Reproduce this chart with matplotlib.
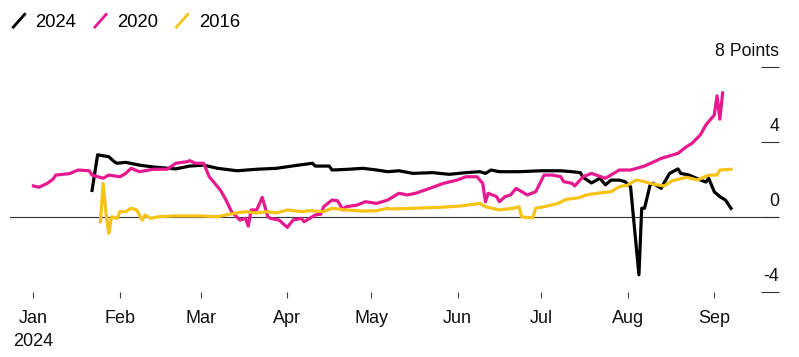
import matplotlib
matplotlib.use('Agg')

import numpy as np
import pandas as pd
import matplotlib.pyplot as plt
import matplotlib.dates as mdates
from matplotlib.lines import Line2D
from matplotlib.legend_handler import HandlerBase

plt.rcParams['font.family'] = ['Liberation Sans', 'DejaVu Sans']

# Day of year (0 = Jan 1) and margin in points for each cycle
days_2024 = [21, 23, 27, 29, 30, 33, 38, 43, 51, 56, 61, 66, 73, 80, 87, 95, 100, 101,
             106, 107, 113, 118, 123, 127, 131, 136, 143, 149, 155, 160, 162, 164, 167,
             174, 182, 189, 193, 196, 197, 200, 203, 205, 207, 210, 212, 214, 217, 218,
             219, 221, 222, 225, 226, 228, 231, 232, 235, 239, 241, 242, 244, 246, 248, 250]
vals_2024 = [1.4, 3.3, 3.2, 2.93, 2.85, 2.9, 2.75, 2.65, 2.55, 2.7, 2.75, 2.58, 2.45, 2.53,
             2.58, 2.75, 2.85, 2.7, 2.7, 2.49, 2.53, 2.58, 2.49, 2.4, 2.45, 2.31, 2.35, 2.26,
             2.35, 2.4, 2.31, 2.49, 2.4, 2.4, 2.45, 2.45, 2.4, 2.35, 2.1, 1.8, 2.05, 1.7,
             1.95, 1.95, 1.87, 1.6, -3.1, 0.45, 0.45, 1.69, 1.78, 1.51, 1.8, 2.31, 2.55,
             2.31, 2.22, 1.96, 1.85, 2.05, 1.33, 1.07, 0.89, 0.45]

days_2020 = [0, 2, 5, 7, 8, 13, 16, 20, 21, 25, 27, 31, 33, 35, 38, 43, 48, 51, 55, 56,
             58, 61, 63, 67, 69, 71, 74, 76, 77, 78, 80, 82, 84, 85, 88, 91, 93, 96, 97,
             100, 101, 103, 104, 107, 109, 111, 112, 116, 119, 123, 127, 128, 131, 134,
             137, 142, 147, 152, 155, 159, 161, 162, 163, 166, 167, 169, 171, 173, 177,
             180, 183, 186, 189, 190, 193, 194, 197, 200, 205, 210, 214, 219, 225, 227,
             231, 234, 236, 239, 241, 243, 244, 245, 246, 247]
vals_2020 = [1.64, 1.57, 1.78, 2.0, 2.22, 2.3, 2.49, 2.45, 2.22, 2.05, 2.22, 2.13, 2.3,
             2.58, 2.4, 2.53, 2.53, 2.85, 2.93, 2.99, 2.85, 2.85, 2.13, 1.42, 0.89, 0.27,
             -0.18, -0.09, -0.5, 0.36, 0.36, 1.03, 0.0, -0.09, -0.18, -0.57, -0.18, -0.09,
             -0.27, 0.0, 0.09, 0.14, 0.53, 0.89, 0.85, 0.36, 0.53, 0.62, 0.8, 0.71, 0.89,
             0.98, 1.25, 1.16, 1.25, 1.51, 1.78, 1.96, 2.13, 2.13, 1.78, 0.8, 1.25, 1.07,
             0.8, 1.07, 1.16, 1.51, 1.16, 1.33, 2.22, 2.22, 2.13, 1.87, 1.78, 1.64, 2.13,
             2.31, 2.05, 2.49, 2.49, 2.7, 3.11, 3.2, 3.38, 3.73, 3.91, 4.36, 4.89, 5.25,
             5.42, 6.45, 5.2, 6.6]

days_2016 = [24, 25, 26, 27, 28, 30, 31, 33, 35, 37, 39, 40, 42, 45, 50, 55, 60, 66, 72,
             76, 80, 84, 87, 91, 96, 99, 104, 107, 112, 118, 123, 127, 128, 136, 146, 153,
             160, 162, 167, 172, 174, 175, 177, 179, 180, 183, 188, 191, 194, 196, 198,
             202, 207, 210, 213, 216, 219, 222, 226, 229, 234, 238, 242, 245, 246, 250]
vals_2016 = [-0.27, 1.78, 0.18, -0.89, 0.0, -0.09, 0.27, 0.27, 0.45, 0.36, -0.18, 0.09,
             -0.09, 0.0, 0.04, 0.04, 0.04, 0.0, 0.18, 0.27, 0.2, 0.27, 0.2, 0.36, 0.27,
             0.32, 0.27, 0.45, 0.36, 0.3, 0.32, 0.45, 0.41, 0.45, 0.5, 0.57, 0.71, 0.53,
             0.36, 0.45, 0.53, 0.0, -0.05, -0.05, 0.45, 0.53, 0.71, 0.93, 0.98, 1.03, 1.16,
             1.25, 1.33, 1.6, 1.69, 1.96, 1.87, 1.74, 1.64, 1.92, 2.1, 1.96, 2.22, 2.22,
             2.49, 2.53]

series_names = ['2024', '2020', '2016']
series_colors = ['#000000', '#e6198f', '#f6c319']
yticks = [-4, 0, 4, 8]
ytick_labels = ['-4', '0', '4', '8 Points']
month_labels = ['Jan\n2024', 'Feb', 'Mar', 'Apr', 'May', 'Jun', 'Jul', 'Aug', 'Sep']


class SlashHandler(HandlerBase):
    """ Legend key drawn as a short diagonal stroke. """
    def create_artists(self, legend, orig_handle, xdescent, ydescent,
                       width, height, fontsize, trans):
        x0 = -xdescent + width * 0.1
        x1 = -xdescent + width * 0.85
        y0 = -ydescent - height * 0.1
        y1 = -ydescent + height * 1.05
        line = Line2D([x0, x1], [y0, y1], color=orig_handle.get_color(),
                      lw=2.0, solid_capstyle='butt')
        line.set_transform(trans)
        return [line]


start = pd.Timestamp('2024-01-01')


def to_dates(days):
    return start + pd.to_timedelta(np.array(days), unit='D')


fig = plt.figure(figsize=(7.99, 3.57), dpi=100)
ax = fig.add_axes([10 / 799, 65.3 / 357, 769 / 799, 225 / 357])

ax.axhline(0, color='#333333', lw=0.8, zorder=1)

handles = []
for days, vals, name, color in [(days_2024, vals_2024, series_names[0], series_colors[0]),
                                (days_2020, vals_2020, series_names[1], series_colors[1]),
                                (days_2016, vals_2016, series_names[2], series_colors[2])]:
    h, = ax.plot(to_dates(days), vals, color=color, lw=2.3, label=name,
                 solid_joinstyle='round', zorder=3)
    handles.append(h)

# Axis limits
ax.set_ylim(-4, 8)
ax.set_xlim(mdates.date2num(start) - 8.4, mdates.date2num(start) + 267.2)

# X ticks on the first of each month
month_ticks = pd.date_range('2024-01-01', periods=len(month_labels), freq='MS')
ax.set_xticks(month_ticks)
ax.set_xticklabels(month_labels, fontsize=13, color='#111111', linespacing=1.45)
ax.tick_params(axis='x', length=4.5, width=0.8, color='#444444', pad=8.5)

# Y ticks on the right, labels sitting above them
ax.set_yticks(yticks)
ax.tick_params(axis='y', left=False, right=True, labelleft=False, labelright=False,
               direction='in', length=12.75, width=0.8, color='#333333')
for val, lab in zip(yticks, ytick_labels):
    ax.annotate(lab, xy=(1, val), xycoords=('axes fraction', 'data'),
                xytext=(0, 7.5), textcoords='offset points',
                ha='right', va='baseline', fontsize=12.8, color='#111111')

for s in ax.spines.values():
    s.set_visible(False)

# Legend
fig.legend(handles, series_names, loc='upper left', bbox_to_anchor=(-0.004, 1.0),
           ncol=3, frameon=False, fontsize=13.3, handlelength=0.95,
           handletextpad=0.4, columnspacing=0.85, borderpad=0.25,
           handler_map={Line2D: SlashHandler()})

plt.savefig('out.png', dpi=100)
